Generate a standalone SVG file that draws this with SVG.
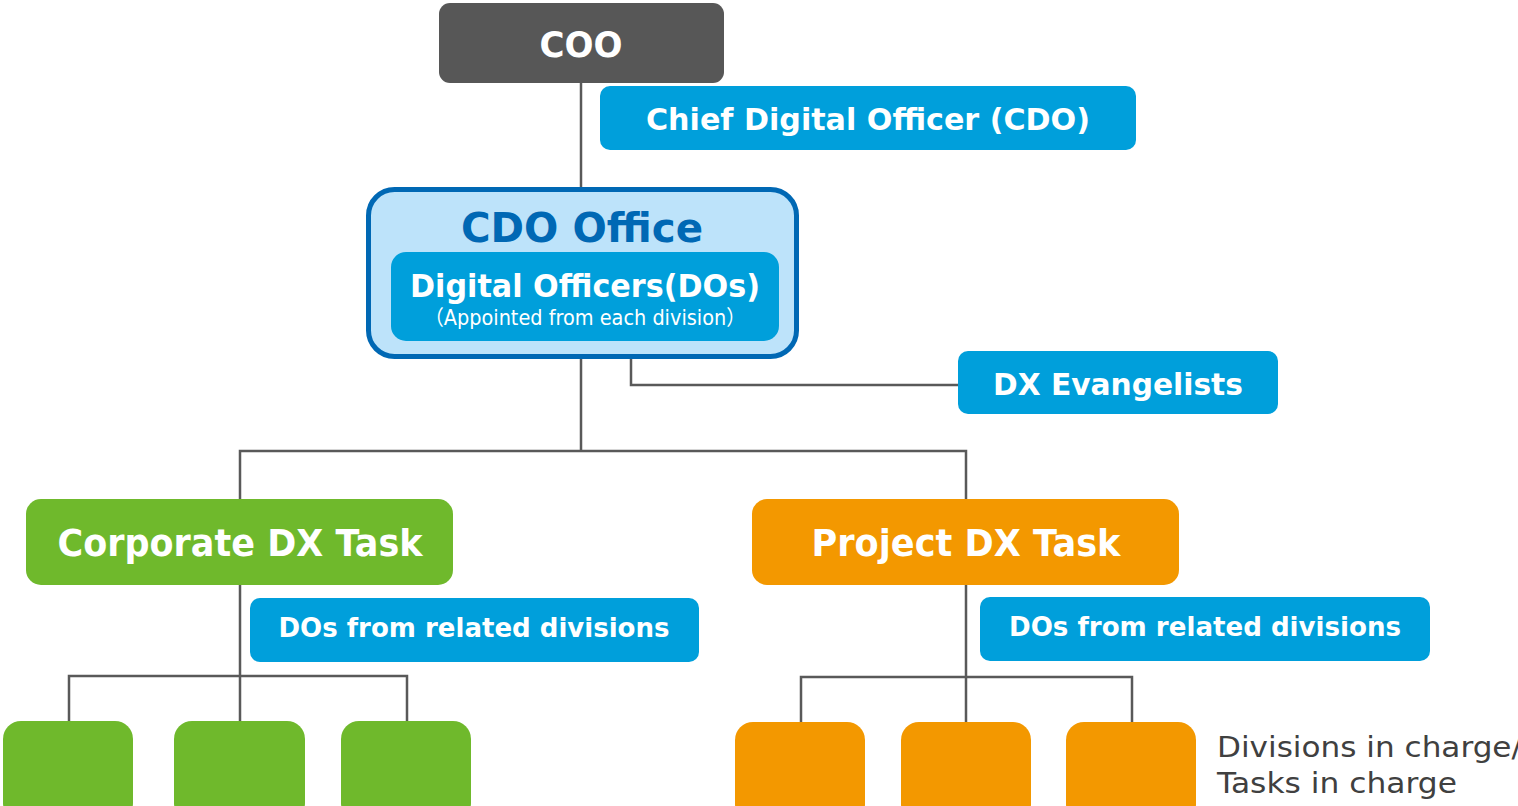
<svg xmlns="http://www.w3.org/2000/svg" width="1518" height="806" viewBox="0 0 1518 806">
<style>
.t{font-family:"DejaVu Sans","Verdana",sans-serif;font-weight:bold;fill:#fff;text-anchor:middle}
.blue{fill:#009fdb}
.green{fill:#6fb92c}
.orange{fill:#f39800}
.ln{stroke:#595959;stroke-width:2.5;fill:none}
</style>
<rect width="1518" height="806" fill="#fff"/>
<g id="connectors">
<path class="ln" d="M581 83V188"/>
<path class="ln" d="M581 357V451M240 499V451H966V499"/>
<path class="ln" d="M631 357V385H958"/>
<path class="ln" d="M240 585V721M69 721V676H407V723"/>
<path class="ln" d="M966 585V723M801 722V677H1132V724"/>
</g>
<g id="coo">
<rect x="439" y="3" width="285" height="80" rx="11" fill="#575757"/>
<text class="t" x="581" y="57" font-size="35" textLength="83" lengthAdjust="spacingAndGlyphs">COO</text>
</g>
<g id="cdo">
<rect class="blue" x="600" y="86" width="536" height="64" rx="10"/>
<text class="t" x="868" y="130" font-size="31" textLength="444" lengthAdjust="spacingAndGlyphs">Chief Digital Officer (CDO)</text>
</g>
<g id="cdo-office">
<rect x="368.5" y="189.5" width="428" height="167" rx="26" fill="#bde3fa" stroke="#0068b4" stroke-width="5"/>
<text class="t" x="582" y="242" font-size="40" style="fill:#0068b4" textLength="242" lengthAdjust="spacingAndGlyphs">CDO Office</text>
<rect class="blue" x="391" y="252" width="388" height="89" rx="15"/>
<text class="t" x="585" y="297" font-size="32" textLength="350" lengthAdjust="spacingAndGlyphs">Digital Officers(DOs)</text>
<text class="t" x="585" y="325" font-size="21" style="font-weight:normal;font-family:'DejaVu Sans','Noto Sans CJK JP',sans-serif" textLength="321" lengthAdjust="spacingAndGlyphs">（Appointed from each division）</text>
</g>
<g id="dx-evangelists">
<rect class="blue" x="958" y="351" width="320" height="63" rx="10"/>
<text class="t" x="1118" y="395" font-size="30" textLength="250" lengthAdjust="spacingAndGlyphs">DX Evangelists</text>
</g>
<g id="corporate-dx">
<rect class="green" x="26" y="499" width="427" height="86" rx="15"/>
<text class="t" x="240" y="556" font-size="38" textLength="365" lengthAdjust="spacingAndGlyphs">Corporate DX Task</text>
</g>
<g id="project-dx">
<rect class="orange" x="752" y="499" width="427" height="86" rx="15"/>
<text class="t" x="966" y="556" font-size="38" textLength="309" lengthAdjust="spacingAndGlyphs">Project DX Task</text>
</g>
<g id="dos-left">
<rect class="blue" x="250" y="598" width="449" height="64" rx="10"/>
<text class="t" x="474" y="637" font-size="27" textLength="391" lengthAdjust="spacingAndGlyphs">DOs from related divisions</text>
</g>
<g id="dos-right">
<rect class="blue" x="980" y="597" width="450" height="64" rx="10"/>
<text class="t" x="1205" y="636" font-size="27" textLength="392" lengthAdjust="spacingAndGlyphs">DOs from related divisions</text>
</g>
<g id="green-units">
<rect class="green" x="3" y="721" width="130" height="100" rx="18"/>
<rect class="green" x="174" y="721" width="131" height="100" rx="18"/>
<rect class="green" x="341" y="721" width="130" height="100" rx="18"/>
</g>
<g id="orange-units">
<rect class="orange" x="735" y="722" width="130" height="100" rx="18"/>
<rect class="orange" x="901" y="722" width="130" height="100" rx="18"/>
<rect class="orange" x="1066" y="722" width="130" height="100" rx="18"/>
</g>
<g id="legend">
<text x="1217" y="757" font-family="DejaVu Sans, Verdana, sans-serif" font-size="29" fill="#404040" textLength="305" lengthAdjust="spacingAndGlyphs">Divisions in charge/</text>
<text x="1217" y="793" font-family="DejaVu Sans, Verdana, sans-serif" font-size="29" fill="#404040" textLength="240" lengthAdjust="spacingAndGlyphs">Tasks in charge</text>
</g>
</svg>
